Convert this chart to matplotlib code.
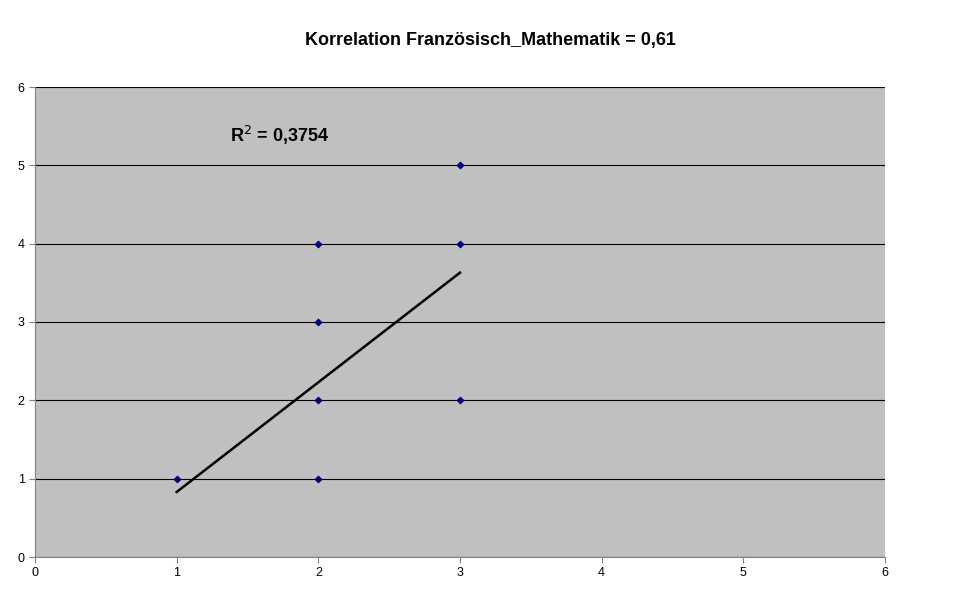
import matplotlib
matplotlib.use("Agg")
import matplotlib.pyplot as plt
import numpy as np

plt.rcParams['font.family'] = ['Liberation Sans', 'DejaVu Sans']

x_vals = [1, 2, 2, 2, 2, 3, 3, 3]
y_vals = [1, 4, 3, 2, 1, 5, 4, 2]
trend_slope = 1.40
trend_intercept = -0.57
trend_range = [1, 3]
title = "Korrelation Französisch_Mathematik = 0,61"
r2_text = "R$^2$ = 0,3754"

fig = plt.figure(figsize=(9.7, 6.03), dpi=100)
fig.patch.set_facecolor('white')
ax = fig.add_axes([35/970, 46/603, 850/970, 470/603])
ax.set_facecolor('#c0c0c0')
ax.set_xlim(0, 6)
ax.set_ylim(0, 6)
ax.set_xticks(range(7))
ax.set_yticks(range(7))
ax.yaxis.grid(True, color='black', linewidth=0.8)
ax.set_axisbelow(True)
for s in ['top', 'right']:
    ax.spines[s].set_visible(False)
for s in ['left', 'bottom']:
    ax.spines[s].set_color('#808080')
ax.tick_params(labelsize=9, length=4, color='#808080')

ax.scatter(x_vals, y_vals, marker='D', s=10, color='#000080', zorder=3)
tx = np.array(trend_range)
ax.plot(tx, trend_slope * tx + trend_intercept, color='black', linewidth=1.8, zorder=2)
ax.text(1.38, 5.3, r2_text, fontsize=13, fontweight='bold')
fig.text(490/970, 1 - 40/603, title, ha='center', va='center', fontsize=13, fontweight='bold')

fig.savefig('out.png', dpi=100)
